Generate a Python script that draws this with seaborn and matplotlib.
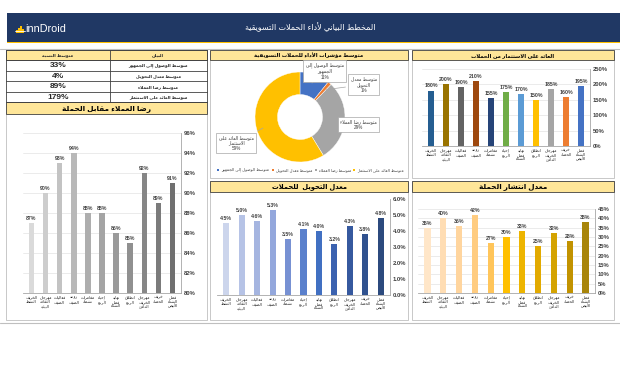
import unicodedata
import numpy as np
import pandas as pd
import matplotlib
matplotlib.use("Agg")
import matplotlib.pyplot as plt
from matplotlib.patches import Rectangle
import seaborn as sns

# ---------------- data ----------------
campaigns = ["فصل الشتاء الأبيض", "خريف الحصاد", "مهرجان الخريف الدافئ", "انطلاق الربيع",
             "نهاية فصل الشتاء", "إحياء الربيع", "مغامرات نشطة", "روعة الصيف",
             "فعاليات الصيف", "مهرجان الثقافة البيئية", "الخريف النشط"]
satisfaction = [91, 89, 92, 85, 86, 88, 88, 94, 93, 90, 87]
roi = [195, 160, 185, 150, 170, 175, 155, 210, 190, 200, 180]
conversion = [4.8, 3.8, 4.3, 3.2, 4.0, 4.1, 3.5, 5.3, 4.6, 5.0, 4.5]
spread = [38, 28, 32, 25, 33, 30, 27, 42, 36, 40, 35]

kpi_names = ["متوسط الوصول إلى الجمهور", "متوسط معدل التحويل", "متوسط رضا العملاء",
             "متوسط العائد على الاستثمار"]
kpi_values = [33, 4, 89, 179]
pie_label_lines = ["متوسط الوصول إلى\nالجمهور", "متوسط معدل\nالتحويل", "متوسط رضا العملاء",
                   "متوسط العائد على\nالاستثمار"]

main_title = "المخطط البياني لأداء الحملات التسويقية"
table_head = ["متوسط النسبة", "البيان"]
t_sat = "رضا العملاء مقابل الحملة"
t_pie = "متوسط مؤشرات الأداء للحملات التسويقية"
t_roi = "العائد على الاستثمار من الحملات"
t_conv = "معدل التحويل  للحملات"
t_spread = "معدل انتشار الحملة"

# ---------------- arabic shaping ----------------
FORMS, LIG = {}, {}
for cp in range(0xFE80, 0xFEFD):
    ch = chr(cp)
    d = unicodedata.decomposition(ch)
    if not d.startswith("<"):
        continue
    parts = d.split()
    tag = parts[0].strip("<>")
    base = "".join(chr(int(c, 16)) for c in parts[1:])
    if len(base) == 1:
        FORMS.setdefault(base, {})[tag] = ch
    elif len(base) == 2 and base[0] == "\u0644":
        LIG.setdefault(base, {})[tag] = ch


def dual(c):
    return c in FORMS and "initial" in FORMS[c]


def joins_prev(c):
    return c in FORMS and "final" in FORMS[c]


def shape_line(s):
    out = []
    i = 0
    n = len(s)
    while i < n:
        c = s[i]
        prev = s[i - 1] if i > 0 else ""
        pj = bool(prev) and dual(prev) and c in FORMS
        if c == "\u0644" and i + 1 < n and (c + s[i + 1]) in LIG:
            lig = LIG[c + s[i + 1]]
            out.append(lig["final"] if pj and "final" in lig else lig["isolated"])
            i += 2
            continue
        if c not in FORMS:
            out.append(c)
            i += 1
            continue
        nxt = s[i + 1] if i + 1 < n else ""
        nj = dual(c) and bool(nxt) and joins_prev(nxt)
        f = FORMS[c]
        if pj and nj and "medial" in f:
            out.append(f["medial"])
        elif pj and "final" in f:
            out.append(f["final"])
        elif nj and "initial" in f:
            out.append(f["initial"])
        else:
            out.append(f.get("isolated", c))
        i += 1
    return "".join(out)[::-1]


def ar(s):
    return "\n".join(shape_line(l) for l in s.split("\n"))


# ---------------- figure ----------------
sns.set_theme(style="white")
plt.rcParams["font.family"] = ["Liberation Sans", "DejaVu Sans"]
W, H = 620, 390
fig = plt.figure(figsize=(6.2, 3.9), dpi=100)
bg = fig.add_axes([0, 0, 1, 1])
bg.set_xlim(0, W)
bg.set_ylim(H, 0)
bg.axis("off")


def px(x0, y0, x1, y1):
    return [x0 / W, 1 - y1 / H, (x1 - x0) / W, (y1 - y0) / H]


YEL = "#FFE699"
NAVY = "#203864"
TXT = "#404040"
# header
bg.add_patch(Rectangle((7, 13), 613, 29, fc=NAVY, ec="none"))
bg.add_patch(Rectangle((7, 41.5), 613, 1.8, fc="#FFC000", ec="none"))
bg.plot([0, 620], [49, 49], color="#BFBFBF", lw=0.8)
bg.plot([0, 620], [323, 323], color="#BFBFBF", lw=0.8)
bg.text(310, 27.5, ar(main_title), color="white", fontsize=5.8, ha="center", va="center")
for i, h in enumerate([3, 5, 7, 4]):
    bg.add_patch(Rectangle((16 + i * 2.0, 33 - h), 1.5, h, fc="#FFC000", ec="none"))
bg.plot([15, 25], [31, 31], color="white", lw=0.6)
bg.text(25.5, 28.5, "innDroid", color="white", fontsize=7.8, ha="left", va="center")


def panel(x0, y0, x1, y1):
    bg.add_patch(Rectangle((x0, y0), x1 - x0, y1 - y0, fc="white", ec="#BFBFBF", lw=0.6))


def band(x0, y0, x1, y1, txt, fs):
    bg.add_patch(Rectangle((x0, y0), x1 - x0, y1 - y0, fc=YEL, ec="#404040", lw=0.6))
    bg.text((x0 + x1) / 2, (y0 + y1) / 2 + 0.3, ar(txt), fontsize=fs, ha="center",
            va="center", color="black", fontweight="bold")


panel(210, 50, 408, 178)
band(210, 50, 408, 60, t_pie, 3.9)
panel(412, 50, 614, 178)
band(412, 50, 614, 60, t_roi, 3.8)
panel(210, 181, 408, 320)
band(210, 181, 408, 192, t_conv, 4.9)
panel(412, 181, 614, 320)
band(412, 181, 614, 192, t_spread, 5.2)
panel(6, 102, 207, 320)
band(6, 102, 207, 114, t_sat, 5.3)

# table
rows_y = [50, 60, 71, 81, 92, 102]
bg.add_patch(Rectangle((6, 50), 201, 10, fc=YEL, ec="#404040", lw=0.6))
for y in rows_y:
    bg.plot([6, 207], [y, y], color="#404040", lw=0.6)
for x in [6, 110, 207]:
    bg.plot([x, x], [50, 102], color="#404040", lw=0.6)
bg.text(58, 55.3, ar(table_head[0]), fontsize=3.2, ha="center", va="center", fontweight="bold")
bg.text(158, 55.3, ar(table_head[1]), fontsize=3.2, ha="center", va="center", fontweight="bold")
for k, (nm, v) in enumerate(zip(kpi_names, kpi_values)):
    yc = (rows_y[k + 1] + rows_y[k + 2]) / 2 + 0.3
    bg.text(58, yc, f"{v}%", fontsize=6.0, ha="center", va="center", fontweight="bold")
    bg.text(158, yc, ar(nm), fontsize=3.1, ha="center", va="center", fontweight="bold")

# ---------------- bar charts ----------------
labels = [ar(c.replace(" ", "\n")) for c in campaigns]
df = pd.DataFrame({"campaign": labels, "satisfaction": satisfaction, "roi": roi,
                   "conversion": conversion, "spread": spread})

sat_colors = ["#707070", "#7B7B7B", "#868686", "#909090", "#9A9A9A", "#A4A4A4",
              "#AEAEAE", "#B8B8B8", "#C3C3C3", "#CDCDCD", "#DADADA"]
roi_colors = ["#4472C4", "#ED7D31", "#A5A5A5", "#FFC000", "#5B9BD5", "#70AD47",
              "#264478", "#9E480E", "#636363", "#997300", "#255E91"]
conv_colors = ["#2C4A7E", "#30528F", "#36599F", "#3B62B0", "#4170C2", "#5A80CC",
               "#7791D3", "#93A7DC", "#A5B5E0", "#B6C3E6", "#CCD5EC"]
spread_colors = ["#A8850A", "#C29300", "#D4A300", "#E2AA00", "#EDB500", "#FFC000",
                 "#FFC55A", "#FFCC80", "#FFD59E", "#FFDDB3", "#FFE6C8"]


def bars(rect, col, colors, ylim, ticks, tickfmt, labfmt, width, grid=True, lab_fs=3.8):
    ax = fig.add_axes(px(*rect))
    sns.barplot(data=df, x="campaign", y=col, hue="campaign", palette=colors,
                order=labels, hue_order=labels, legend=False, width=width,
                dodge=False, ax=ax, saturation=1, linewidth=0, edgecolor="none")
    ax.set_xlim(-0.6, len(labels) - 0.4)
    ax.invert_xaxis()
    ax.set_ylim(*ylim)
    ax.set_yticks(ticks)
    ax.set_yticklabels([tickfmt(t) for t in ticks], fontsize=4.2, fontweight="bold", color=TXT)
    ax.yaxis.tick_right()
    ax.tick_params(axis="y", length=0, pad=2)
    ax.tick_params(axis="x", length=0, pad=2)
    ax.set_xticks(range(len(labels)))
    ax.set_xticklabels(labels, fontsize=2.8, linespacing=1.05, color="#202020")
    ax.set_xlabel("")
    ax.set_ylabel("")
    ax.set_facecolor("none")
    for s in ["top", "left"]:
        ax.spines[s].set_visible(False)
    for s in ["right", "bottom"]:
        ax.spines[s].set_color("#A6A6A6")
        ax.spines[s].set_linewidth(0.6)
    if grid:
        ax.yaxis.grid(True, color="#E3E3E3", lw=0.5)
        ax.set_axisbelow(True)
    vals = df[col].tolist()
    for cont, v in zip(ax.containers, vals):
        ax.bar_label(cont, labels=[labfmt(v)], fontsize=lab_fs, padding=1.5,
                     fontweight="bold", color=TXT)
    return ax


bars((23, 133, 181, 293), "satisfaction", sat_colors, (80, 96), list(range(80, 97, 2)),
     lambda t: f"{t}%", lambda v: f"{v}%", 0.4)
bars((422, 69, 590, 146), "roi", roi_colors, (0, 250), list(range(0, 251, 50)),
     lambda t: f"{t}%", lambda v: f"{v}%", 0.36)
bars((217, 199, 390, 295), "conversion", conv_colors, (0, 6), list(range(0, 7)),
     lambda t: f"{t:.1f}%", lambda v: f"{v:.1f}%", 0.4, grid=False)
bars((418, 209, 595, 293), "spread", spread_colors, (0, 45), list(range(0, 46, 5)),
     lambda t: f"{t}%", lambda v: f"{v}%", 0.4)

# ---------------- donut ----------------
pax = fig.add_axes(px(210, 57, 390, 177))
pie_colors = ["#4472C4", "#ED7D31", "#A5A5A5", "#FFC000"]
wedges, _ = pax.pie(kpi_values, colors=pie_colors, startangle=90, counterclock=False,
                    radius=1.0, wedgeprops=dict(width=0.5, edgecolor="white", linewidth=0.3))
pax.set_xlim(-2, 2)
pax.set_ylim(-1.333, 1.333)
pax.set_aspect("equal")
pax.axis("off")
total = sum(kpi_values)
pcts = [round(v * 100 / total) for v in kpi_values]
lab_pos = [(0.55, 1.02), (1.42, 0.72), (1.3, -0.17), (-1.42, -0.58)]
for w, lines, p, pos in zip(wedges, pie_label_lines, pcts, lab_pos):
    ang = np.deg2rad((w.theta1 + w.theta2) / 2)
    anchor = (0.8 * np.cos(ang), 0.8 * np.sin(ang))
    txt = ar(lines) + f"\n{p}%"
    pax.annotate(txt, xy=anchor, xytext=pos, fontsize=3.3, ha="center", va="center",
                 linespacing=1.15, color=TXT,
                 bbox=dict(boxstyle="square,pad=0.5", fc="white", ec="#A6A6A6", lw=0.5),
                 arrowprops=dict(arrowstyle="-", color="#A6A6A6", lw=0.5))

# legend (drawn at fixed positions in the panel)
leg_x = [218, 273, 316, 354]
for c, nm, x in zip(pie_colors, kpi_names, leg_x):
    bg.add_patch(Rectangle((x - 1.3, 168.7), 2.6, 2.6, fc=c, ec="none"))
    bg.text(x + 2.8, 170.2, ar(nm), fontsize=2.9, ha="left", va="center", color=TXT)

fig.savefig("out.png", dpi=100)
